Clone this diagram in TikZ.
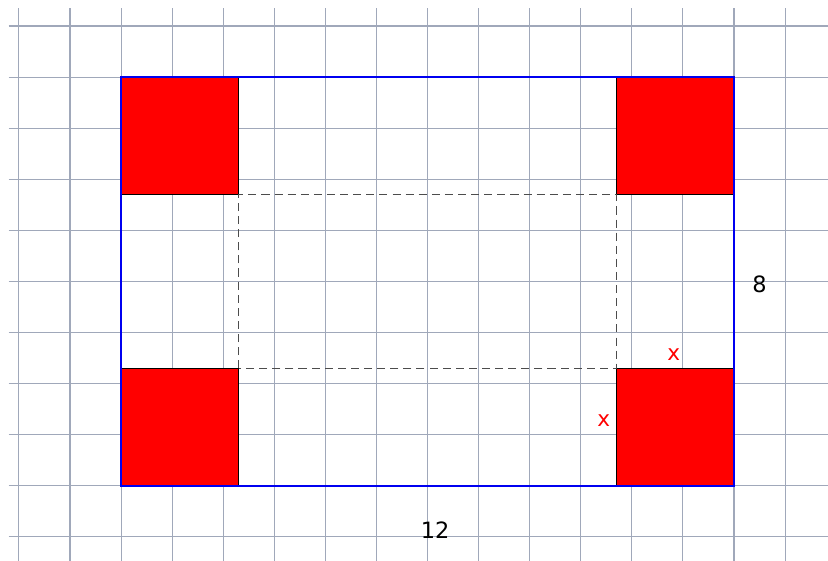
\documentclass[tikz,border=0pt]{standalone}
\usepackage{fontspec}
\setmainfont{DejaVu Sans}
\usetikzlibrary{positioning}
\definecolor{gridgray}{RGB}{160,168,186}
\definecolor{boxblue}{RGB}{0,0,240}
\tikzstyle{gridline} = [gridgray, line width=0.6pt]
\tikzstyle{corner} = [fill=red, draw=black, line width=0.5pt]
\tikzstyle{sheet} = [draw=boxblue, line width=1.3pt]
\tikzstyle{fold} = [dash pattern=on 4.5pt off 2.8pt, draw=black!70, line width=0.6pt]
\tikzstyle{dim} = [font=\fontsize{12.5}{15}\selectfont, text=black]
\tikzstyle{cut} = [font=\fontsize{12}{14}\selectfont, text=red]

\begin{document}
\begin{tikzpicture}
    \useasboundingbox (-2.37,-1.47) rectangle (13.84,9.51);

    % grid
    \foreach \x in {-2,...,13}
        \draw [gridline] (\x,-1.47)--(\x,9.35);
    \foreach \y in {-1,...,9}
        \draw [gridline] (-2.2,\y)--(13.84,\y);

    % cut corners
    \draw [corner] (0,0) rectangle (2.3,2.3);
    \draw [corner] (9.7,0) rectangle (12,2.3);
    \draw [corner] (0,5.7) rectangle (2.3,8);
    \draw [corner] (9.7,5.7) rectangle (12,8);

    \draw [fold] (2.3,2.3) rectangle (9.7,5.7);
    \draw [sheet] (0,0) rectangle (12,8);

    \node (len) [dim] at (6.15,-0.86) {12};
    \node (wid) [dim] at (12.5,3.95) {8};
    \node (xtop) [cut] at (10.82,2.56) {x};
    \node (xside) [cut] at (9.45,1.28) {x};

\end{tikzpicture}
\end{document}
